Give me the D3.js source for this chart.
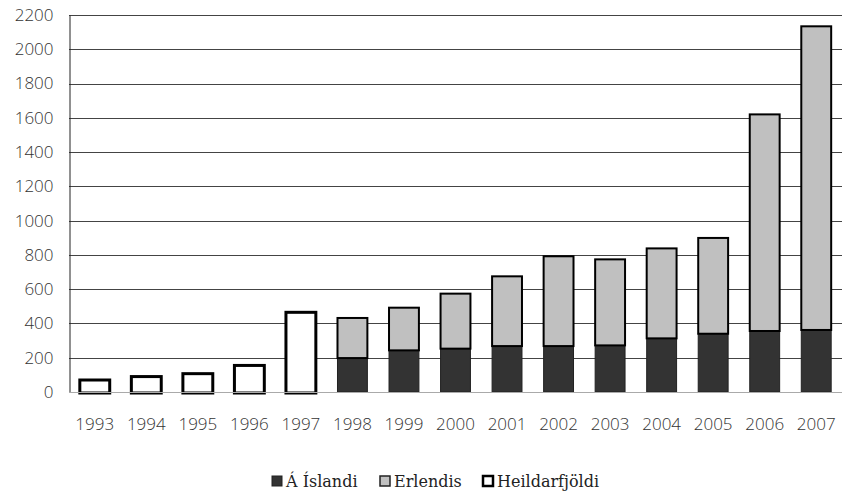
<!DOCTYPE html>
<html>
<head>
<meta charset="utf-8">
<script src="https://cdn.jsdelivr.net/npm/d3@7"></script>
<style>
  html, body { margin: 0; padding: 0; background: #ffffff; }
  svg { display: block; }
</style>
</head>
<body>
<svg id="chart" width="843" height="492"></svg>
<script>
// Years on the x axis
const years = ["1993","1994","1995","1996","1997","1998","1999","2000","2001","2002","2003","2004","2005","2006","2007"];
// Á Íslandi (dark segment), from 1998
const island = [null,null,null,null,null,198,243,253,268,268,272,313,340,356,362];
// Erlendis (light segment stacked on top), from 1998
const abroad = [null,null,null,null,null,234,249,321,407,524,502,525,559,1264,1772];
// Heildarfjöldi (outlined total only), 1993–1997
const total = [70,90,107,155,465,null,null,null,null,null,null,null,null,null,null];
// Y tick values
const yTicks = [0,200,400,600,800,1000,1200,1400,1600,1800,2000,2200];
const seriesNames = ["Á Íslandi","Erlendis","Heildarfjöldi"];

const svg = d3.select("#chart");
const plotLeft = 69, plotRight = 842, plotTop = 15, plotBottom = 392;

const x = d3.scaleBand().domain(years).range([plotLeft, plotRight]).paddingInner(0.42).paddingOuter(0.21);
const y = d3.scaleLinear().domain([0, 2200]).range([plotBottom, plotTop]);

const tickFont = "'Open Sans', sans-serif";

// Horizontal gridlines
svg.append("g")
  .selectAll("line").data(yTicks.filter(d => d > 0)).join("line")
  .attr("x1", plotLeft).attr("x2", plotRight)
  .attr("y1", d => Math.round(y(d)) + 0.5).attr("y2", d => Math.round(y(d)) + 0.5)
  .attr("stroke", "#444").attr("stroke-width", 1);

// Y axis
const yAxis = d3.axisLeft(y).tickValues(yTicks).tickFormat(d3.format("d")).tickSize(0).tickPadding(16);
const gy = svg.append("g").attr("transform", `translate(${plotLeft + 0.5},0)`).call(yAxis);
gy.select(".domain").attr("stroke", "#222").attr("stroke-width", 1);
gy.selectAll("text")
  .attr("font-family", tickFont).attr("font-weight", 300)
  .attr("font-size", 17).attr("fill", "#333");

// Bars
const g = svg.append("g");
years.forEach((yr, i) => {
  const bx = x(yr), bw = x.bandwidth();
  if (total[i] != null) {
    g.append("rect")
      .attr("x", bx).attr("width", bw)
      .attr("y", y(total[i])).attr("height", y(0) - y(total[i]) + 1)
      .attr("fill", "#ffffff").attr("stroke", "#000").attr("stroke-width", 3);
  }
  if (island[i] != null) {
    g.append("rect")
      .attr("x", bx).attr("width", bw)
      .attr("y", y(island[i])).attr("height", y(0) - y(island[i]))
      .attr("fill", "#333333").attr("stroke", "#222").attr("stroke-width", 1);
    const t = island[i] + abroad[i];
    g.append("rect")
      .attr("x", bx).attr("width", bw)
      .attr("y", y(t)).attr("height", y(island[i]) - y(t))
      .attr("fill", "#c0c0c0").attr("stroke", "#000").attr("stroke-width", 2);
  }
});

// Zero baseline
svg.append("line")
  .attr("x1", plotLeft).attr("x2", plotRight)
  .attr("y1", plotBottom + 0.5).attr("y2", plotBottom + 0.5)
  .attr("stroke", "#aaa").attr("stroke-width", 1);

// X axis labels
const xAxis = d3.axisBottom(x).tickSize(0).tickPadding(26);
const gx = svg.append("g").attr("transform", `translate(0,${plotBottom})`).call(xAxis);
gx.select(".domain").remove();
gx.selectAll("text")
  .attr("font-family", tickFont).attr("font-weight", 300)
  .attr("font-size", 17).attr("fill", "#333");

// Legend
const legendItems = [
  { name: seriesNames[0], x: 272, fill: "#333333", stroke: "#222", sw: 1 },
  { name: seriesNames[1], x: 380, fill: "#c0c0c0", stroke: "#222", sw: 1.5 },
  { name: seriesNames[2], x: 483, fill: "#ffffff", stroke: "#000", sw: 2.5 }
];
const lg = svg.append("g");
legendItems.forEach(d => {
  lg.append("rect").attr("x", d.x).attr("y", 476).attr("width", 10).attr("height", 10)
    .attr("fill", d.fill).attr("stroke", d.stroke).attr("stroke-width", d.sw);
  lg.append("text").attr("x", d.x + 14).attr("y", 487)
    .attr("font-family", "'DejaVu Serif', serif").attr("font-size", 16)
    .attr("fill", "#222").text(d.name);
});
</script>
</body>
</html>
